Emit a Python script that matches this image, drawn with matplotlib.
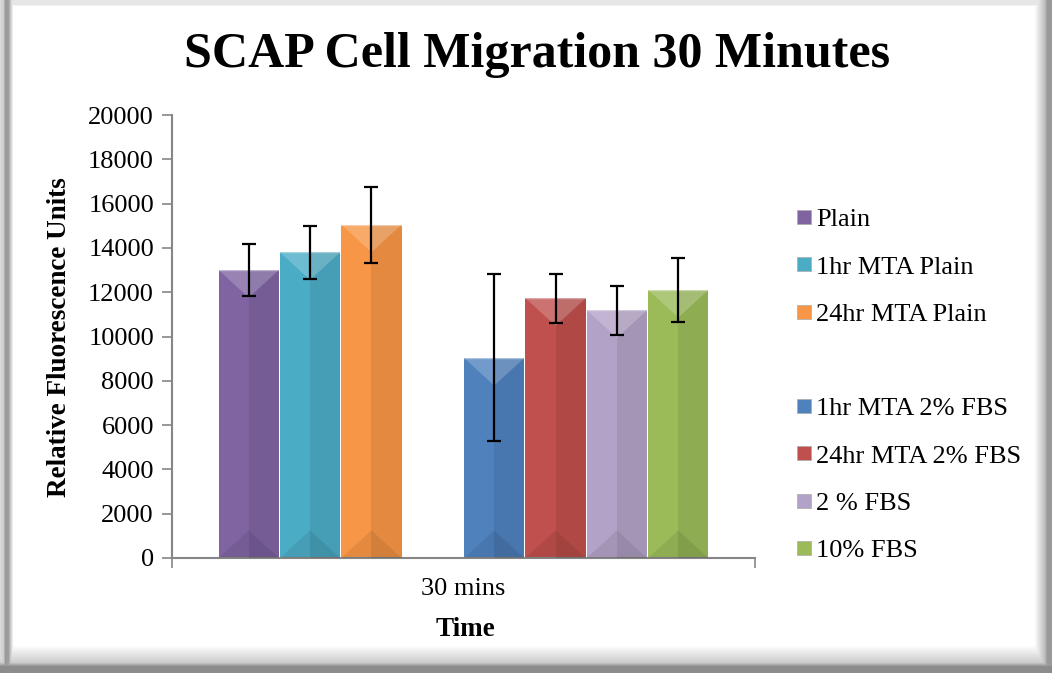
import numpy as np
import matplotlib
matplotlib.use('Agg')
import matplotlib.pyplot as plt
from matplotlib.patches import Polygon, Rectangle
from matplotlib.lines import Line2D

# Data
series = ['Plain', '1hr MTA Plain', '24hr MTA Plain', '',
          '1hr MTA 2% FBS', '24hr MTA 2% FBS', '2 % FBS', '10% FBS']
values = [13000, 13800, 15050, 0, 9030, 11730, 11180, 12100]
errors = [1160, 1210, 1720, 0, 3770, 1100, 1100, 1450]
colors = ['#8064A2', '#4BACC6', '#F79646', 'none',
          '#4F81BD', '#C0504D', '#B3A2C7', '#9BBB59']
category = '30 mins'
yticks = [0, 2000, 4000, 6000, 8000, 10000, 12000, 14000, 16000, 18000, 20000]

W, H = 1052, 673
plt.rcParams['font.family'] = ['Liberation Serif', 'DejaVu Serif']
fig = plt.figure(figsize=(W / 100, H / 100), dpi=100)
fig.patch.set_facecolor('white')

# Bevelled frame around the chart
bg = fig.add_axes([0, 0, 1, 1], zorder=-10)
img = np.ones((H, W))
xs = np.arange(W)
ys = np.arange(H)
left = np.interp(xs, [0, 3, 5, 8, 13], [0.85, 0.8, 0.6, 0.62, 1.0])
right = np.interp(xs, [1034, 1044, 1047, 1052], [1.0, 0.75, 0.6, 0.6])
top = np.interp(ys, [0, 4, 6], [0.9, 0.9, 1.0])
bottom = np.interp(ys, [645, 662, 666, 673], [1.0, 0.8, 0.55, 0.55])
img = np.minimum(img, left[None, :])
img = np.minimum(img, right[None, :])
img = np.minimum(img, top[:, None])
img = np.minimum(img, bottom[:, None])
bg.imshow(img, cmap='gray', vmin=0, vmax=1, aspect='auto', interpolation='bilinear')
bg.axis('off')

ax_l, ax_r, ax_t, ax_b = 172, 755, 115, 558
ax = fig.add_axes([ax_l / W, 1 - ax_b / H, (ax_r - ax_l) / W, (ax_b - ax_t) / H])
ax.set_facecolor('none')

n = len(series)
w = 1 / (n + 1.5)
offsets = [-0.5 + 0.75 * w + (i + 0.5) * w for i in range(n)]

ax.set_xlim(-0.5, 0.5)
ax.set_ylim(0, 20000)

# units per pixel for bevel depth
y_per_px = 20000 / (ax_b - ax_t)
bar_px = w * (ax_r - ax_l)
d = 0.45 * bar_px * y_per_px

handles = []
for i, (name, v, e, c) in enumerate(zip(series, values, errors, colors)):
    if name == '':
        handles.append(Line2D([], [], linestyle='none', marker=None, label=' '))
        continue
    x = offsets[i]
    ax.bar(x, v, width=w * 0.98, color=c, edgecolor='none', zorder=2)
    x0, x1 = x - w * 0.49, x + w * 0.49
    xm = x
    ax.add_patch(Rectangle((xm, 0), x1 - xm, v, color='black', alpha=0.08, lw=0, zorder=3))
    ax.add_patch(Polygon([(x0, v), (x1, v), (xm, v - d)], closed=True,
                         color='white', alpha=0.2, lw=0, zorder=3))
    ax.add_patch(Polygon([(x0, 0), (x1, 0), (xm, d)], closed=True,
                         color='black', alpha=0.08, lw=0, zorder=3))
    ax.plot([x0, x1], [v, v], color='white', alpha=0.4, lw=1, zorder=4)
    ax.errorbar(x, v, yerr=e, color='black', lw=1.6, capsize=5, capthick=1.6, zorder=5)
    handles.append(Line2D([], [], linestyle='none', marker='s', markersize=10,
                          markerfacecolor=c, markeredgecolor='#aaaaaa',
                          markeredgewidth=0.5, label=name))

for s in ['top', 'right']:
    ax.spines[s].set_visible(False)
for s in ['left', 'bottom']:
    ax.spines[s].set_color('#868686')
    ax.spines[s].set_linewidth(1.5)

ax.set_yticks(yticks)
ax.set_yticklabels([str(t) for t in yticks], fontsize=19)
ax.tick_params(axis='y', direction='out', length=7, width=1.2, color='#868686', pad=6)
ax.set_xticks([-0.5, 0.5])
ax.set_xticklabels(['', ''])
ax.tick_params(axis='x', direction='out', length=7, width=1.2, color='#868686')

ax.text(0, -0.07, category, transform=ax.get_xaxis_transform(), ha='center', va='center',
        fontsize=19)
fig.text(465 / W, 1 - 630 / H, 'Time', ha='center', va='center', fontsize=19.5, fontweight='bold')
fig.text(60 / W, 1 - 337 / H, 'Relative Fluorescence Units', ha='center', va='center',
         rotation=90, fontsize=19.5, fontweight='bold')
fig.text(537 / W, 1 - 55 / H, 'SCAP Cell Migration 30 Minutes', ha='center', va='center',
         fontsize=36, fontweight='bold')

leg = fig.legend(handles=handles, loc='upper left', bbox_to_anchor=(796 / W, 1 - 208 / H),
                 frameon=False, fontsize=19, labelspacing=0.9, handlelength=0.6,
                 handletextpad=0.15, borderaxespad=0, borderpad=0)

fig.savefig('out.png', dpi=100)
